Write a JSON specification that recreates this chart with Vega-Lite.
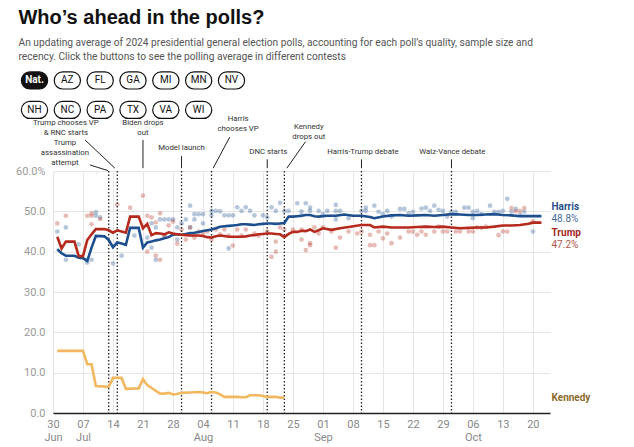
{
  "$schema": "https://vega.github.io/schema/vega-lite/v6.json",
  "width": 497,
  "height": 242,
  "autosize": {"type": "none"},
  "padding": {"left": 53, "top": 171, "right": 84, "bottom": 34},
  "title": {
    "text": "Who’s ahead in the polls?",
    "subtitle": [
      "An updating average of 2024 presidential general election polls, accounting for each poll’s quality, sample size and",
      "recency. Click the buttons to see the polling average in different contests"
    ],
    "anchor": "start",
    "frame": "bounds",
    "font": "Liberation Sans",
    "fontSize": 20,
    "fontWeight": "bold",
    "color": "#111111",
    "subtitleFont": "Roboto",
    "subtitleFontSize": 10.2,
    "subtitleColor": "#555555",
    "subtitlePadding": 10,
    "subtitleLineHeight": 14,
    "offset": 9,
    "dx": 3
  },
  "config": {"view": {"stroke": null}, "font": "Roboto"},
  "datasets": {
    "avg": [
      {"date": "2024-07-01", "candidate": "Harris", "pct": 40.6},
      {"date": "2024-07-02", "candidate": "Harris", "pct": 39.6},
      {"date": "2024-07-03", "candidate": "Harris", "pct": 39.0},
      {"date": "2024-07-05", "candidate": "Harris", "pct": 39.0},
      {"date": "2024-07-06", "candidate": "Harris", "pct": 38.5},
      {"date": "2024-07-07", "candidate": "Harris", "pct": 38.4},
      {"date": "2024-07-08", "candidate": "Harris", "pct": 37.7},
      {"date": "2024-07-09", "candidate": "Harris", "pct": 41.0},
      {"date": "2024-07-10", "candidate": "Harris", "pct": 43.9},
      {"date": "2024-07-12", "candidate": "Harris", "pct": 43.8},
      {"date": "2024-07-13", "candidate": "Harris", "pct": 42.9},
      {"date": "2024-07-14", "candidate": "Harris", "pct": 41.1},
      {"date": "2024-07-15", "candidate": "Harris", "pct": 42.3},
      {"date": "2024-07-16", "candidate": "Harris", "pct": 42.0},
      {"date": "2024-07-17", "candidate": "Harris", "pct": 41.7},
      {"date": "2024-07-18", "candidate": "Harris", "pct": 45.9},
      {"date": "2024-07-20", "candidate": "Harris", "pct": 45.9},
      {"date": "2024-07-21", "candidate": "Harris", "pct": 41.0},
      {"date": "2024-07-22", "candidate": "Harris", "pct": 42.3},
      {"date": "2024-07-23", "candidate": "Harris", "pct": 42.5},
      {"date": "2024-07-24", "candidate": "Harris", "pct": 42.8},
      {"date": "2024-07-25", "candidate": "Harris", "pct": 43.0},
      {"date": "2024-07-26", "candidate": "Harris", "pct": 43.3},
      {"date": "2024-07-27", "candidate": "Harris", "pct": 43.6},
      {"date": "2024-07-28", "candidate": "Harris", "pct": 44.2},
      {"date": "2024-07-29", "candidate": "Harris", "pct": 44.3},
      {"date": "2024-07-30", "candidate": "Harris", "pct": 44.2},
      {"date": "2024-07-31", "candidate": "Harris", "pct": 44.4},
      {"date": "2024-08-01", "candidate": "Harris", "pct": 44.6},
      {"date": "2024-08-02", "candidate": "Harris", "pct": 44.7},
      {"date": "2024-08-03", "candidate": "Harris", "pct": 44.9},
      {"date": "2024-08-04", "candidate": "Harris", "pct": 45.1},
      {"date": "2024-08-05", "candidate": "Harris", "pct": 45.3},
      {"date": "2024-08-06", "candidate": "Harris", "pct": 45.5},
      {"date": "2024-08-07", "candidate": "Harris", "pct": 45.8},
      {"date": "2024-08-08", "candidate": "Harris", "pct": 46.2},
      {"date": "2024-08-09", "candidate": "Harris", "pct": 46.3},
      {"date": "2024-08-10", "candidate": "Harris", "pct": 46.4},
      {"date": "2024-08-11", "candidate": "Harris", "pct": 46.5},
      {"date": "2024-08-12", "candidate": "Harris", "pct": 46.6},
      {"date": "2024-08-13", "candidate": "Harris", "pct": 46.8},
      {"date": "2024-08-14", "candidate": "Harris", "pct": 46.8},
      {"date": "2024-08-15", "candidate": "Harris", "pct": 46.7},
      {"date": "2024-08-16", "candidate": "Harris", "pct": 46.6},
      {"date": "2024-08-17", "candidate": "Harris", "pct": 46.8},
      {"date": "2024-08-18", "candidate": "Harris", "pct": 46.9},
      {"date": "2024-08-19", "candidate": "Harris", "pct": 47.0},
      {"date": "2024-08-20", "candidate": "Harris", "pct": 47.0},
      {"date": "2024-08-21", "candidate": "Harris", "pct": 46.9},
      {"date": "2024-08-22", "candidate": "Harris", "pct": 47.0},
      {"date": "2024-08-23", "candidate": "Harris", "pct": 47.1},
      {"date": "2024-08-24", "candidate": "Harris", "pct": 48.7},
      {"date": "2024-08-25", "candidate": "Harris", "pct": 48.7},
      {"date": "2024-08-26", "candidate": "Harris", "pct": 48.8},
      {"date": "2024-08-27", "candidate": "Harris", "pct": 48.9},
      {"date": "2024-08-28", "candidate": "Harris", "pct": 49.1},
      {"date": "2024-08-29", "candidate": "Harris", "pct": 49.1},
      {"date": "2024-08-30", "candidate": "Harris", "pct": 48.8},
      {"date": "2024-08-31", "candidate": "Harris", "pct": 48.7},
      {"date": "2024-09-02", "candidate": "Harris", "pct": 48.9},
      {"date": "2024-09-04", "candidate": "Harris", "pct": 48.9},
      {"date": "2024-09-06", "candidate": "Harris", "pct": 49.2},
      {"date": "2024-09-08", "candidate": "Harris", "pct": 48.9},
      {"date": "2024-09-10", "candidate": "Harris", "pct": 48.9},
      {"date": "2024-09-12", "candidate": "Harris", "pct": 48.6},
      {"date": "2024-09-13", "candidate": "Harris", "pct": 48.3},
      {"date": "2024-09-15", "candidate": "Harris", "pct": 48.7},
      {"date": "2024-09-17", "candidate": "Harris", "pct": 49.0},
      {"date": "2024-09-19", "candidate": "Harris", "pct": 49.1},
      {"date": "2024-09-21", "candidate": "Harris", "pct": 48.9},
      {"date": "2024-09-23", "candidate": "Harris", "pct": 49.0},
      {"date": "2024-09-25", "candidate": "Harris", "pct": 49.1},
      {"date": "2024-09-27", "candidate": "Harris", "pct": 48.9},
      {"date": "2024-09-29", "candidate": "Harris", "pct": 49.1},
      {"date": "2024-10-01", "candidate": "Harris", "pct": 49.3},
      {"date": "2024-10-03", "candidate": "Harris", "pct": 49.2},
      {"date": "2024-10-05", "candidate": "Harris", "pct": 49.1},
      {"date": "2024-10-07", "candidate": "Harris", "pct": 49.1},
      {"date": "2024-10-09", "candidate": "Harris", "pct": 49.2},
      {"date": "2024-10-11", "candidate": "Harris", "pct": 49.3},
      {"date": "2024-10-13", "candidate": "Harris", "pct": 49.1},
      {"date": "2024-10-15", "candidate": "Harris", "pct": 49.0},
      {"date": "2024-10-17", "candidate": "Harris", "pct": 48.8},
      {"date": "2024-10-19", "candidate": "Harris", "pct": 48.8},
      {"date": "2024-10-21", "candidate": "Harris", "pct": 48.8},
      {"date": "2024-10-22", "candidate": "Harris", "pct": 48.8},
      {"date": "2024-07-01", "candidate": "Trump", "pct": 43.7},
      {"date": "2024-07-02", "candidate": "Trump", "pct": 40.8},
      {"date": "2024-07-03", "candidate": "Trump", "pct": 42.5},
      {"date": "2024-07-05", "candidate": "Trump", "pct": 42.5},
      {"date": "2024-07-06", "candidate": "Trump", "pct": 38.9},
      {"date": "2024-07-07", "candidate": "Trump", "pct": 38.9},
      {"date": "2024-07-08", "candidate": "Trump", "pct": 42.9},
      {"date": "2024-07-09", "candidate": "Trump", "pct": 44.3},
      {"date": "2024-07-10", "candidate": "Trump", "pct": 45.6},
      {"date": "2024-07-12", "candidate": "Trump", "pct": 45.6},
      {"date": "2024-07-13", "candidate": "Trump", "pct": 45.3},
      {"date": "2024-07-14", "candidate": "Trump", "pct": 44.7},
      {"date": "2024-07-15", "candidate": "Trump", "pct": 45.3},
      {"date": "2024-07-16", "candidate": "Trump", "pct": 45.0},
      {"date": "2024-07-17", "candidate": "Trump", "pct": 44.7},
      {"date": "2024-07-18", "candidate": "Trump", "pct": 48.7},
      {"date": "2024-07-20", "candidate": "Trump", "pct": 48.7},
      {"date": "2024-07-21", "candidate": "Trump", "pct": 45.8},
      {"date": "2024-07-22", "candidate": "Trump", "pct": 46.9},
      {"date": "2024-07-23", "candidate": "Trump", "pct": 44.1},
      {"date": "2024-07-24", "candidate": "Trump", "pct": 44.6},
      {"date": "2024-07-25", "candidate": "Trump", "pct": 44.5},
      {"date": "2024-07-26", "candidate": "Trump", "pct": 44.3},
      {"date": "2024-07-27", "candidate": "Trump", "pct": 44.8},
      {"date": "2024-07-28", "candidate": "Trump", "pct": 44.5},
      {"date": "2024-07-29", "candidate": "Trump", "pct": 44.3},
      {"date": "2024-07-30", "candidate": "Trump", "pct": 44.2},
      {"date": "2024-07-31", "candidate": "Trump", "pct": 44.1},
      {"date": "2024-08-01", "candidate": "Trump", "pct": 44.0},
      {"date": "2024-08-03", "candidate": "Trump", "pct": 44.0},
      {"date": "2024-08-04", "candidate": "Trump", "pct": 43.9},
      {"date": "2024-08-05", "candidate": "Trump", "pct": 43.6},
      {"date": "2024-08-06", "candidate": "Trump", "pct": 43.5},
      {"date": "2024-08-07", "candidate": "Trump", "pct": 43.8},
      {"date": "2024-08-08", "candidate": "Trump", "pct": 44.0},
      {"date": "2024-08-09", "candidate": "Trump", "pct": 43.9},
      {"date": "2024-08-10", "candidate": "Trump", "pct": 43.7},
      {"date": "2024-08-13", "candidate": "Trump", "pct": 43.7},
      {"date": "2024-08-14", "candidate": "Trump", "pct": 43.8},
      {"date": "2024-08-15", "candidate": "Trump", "pct": 44.0},
      {"date": "2024-08-16", "candidate": "Trump", "pct": 44.1},
      {"date": "2024-08-17", "candidate": "Trump", "pct": 44.3},
      {"date": "2024-08-18", "candidate": "Trump", "pct": 44.4},
      {"date": "2024-08-19", "candidate": "Trump", "pct": 44.5},
      {"date": "2024-08-20", "candidate": "Trump", "pct": 44.5},
      {"date": "2024-08-21", "candidate": "Trump", "pct": 44.4},
      {"date": "2024-08-22", "candidate": "Trump", "pct": 44.3},
      {"date": "2024-08-23", "candidate": "Trump", "pct": 43.6},
      {"date": "2024-08-24", "candidate": "Trump", "pct": 44.4},
      {"date": "2024-08-25", "candidate": "Trump", "pct": 44.9},
      {"date": "2024-08-26", "candidate": "Trump", "pct": 44.9},
      {"date": "2024-08-27", "candidate": "Trump", "pct": 45.2},
      {"date": "2024-08-28", "candidate": "Trump", "pct": 45.1},
      {"date": "2024-08-29", "candidate": "Trump", "pct": 45.5},
      {"date": "2024-08-30", "candidate": "Trump", "pct": 44.9},
      {"date": "2024-08-31", "candidate": "Trump", "pct": 45.3},
      {"date": "2024-09-01", "candidate": "Trump", "pct": 45.8},
      {"date": "2024-09-03", "candidate": "Trump", "pct": 45.4},
      {"date": "2024-09-05", "candidate": "Trump", "pct": 45.8},
      {"date": "2024-09-07", "candidate": "Trump", "pct": 46.1},
      {"date": "2024-09-10", "candidate": "Trump", "pct": 46.6},
      {"date": "2024-09-12", "candidate": "Trump", "pct": 46.6},
      {"date": "2024-09-13", "candidate": "Trump", "pct": 46.0},
      {"date": "2024-09-15", "candidate": "Trump", "pct": 46.2},
      {"date": "2024-09-17", "candidate": "Trump", "pct": 46.0},
      {"date": "2024-09-19", "candidate": "Trump", "pct": 46.0},
      {"date": "2024-09-21", "candidate": "Trump", "pct": 46.0},
      {"date": "2024-09-23", "candidate": "Trump", "pct": 46.1},
      {"date": "2024-09-25", "candidate": "Trump", "pct": 46.2},
      {"date": "2024-09-27", "candidate": "Trump", "pct": 46.1},
      {"date": "2024-09-29", "candidate": "Trump", "pct": 46.2},
      {"date": "2024-10-01", "candidate": "Trump", "pct": 46.0},
      {"date": "2024-10-03", "candidate": "Trump", "pct": 45.8},
      {"date": "2024-10-05", "candidate": "Trump", "pct": 45.9},
      {"date": "2024-10-07", "candidate": "Trump", "pct": 46.0},
      {"date": "2024-10-09", "candidate": "Trump", "pct": 46.0},
      {"date": "2024-10-11", "candidate": "Trump", "pct": 46.2},
      {"date": "2024-10-13", "candidate": "Trump", "pct": 46.5},
      {"date": "2024-10-15", "candidate": "Trump", "pct": 46.5},
      {"date": "2024-10-17", "candidate": "Trump", "pct": 46.6},
      {"date": "2024-10-19", "candidate": "Trump", "pct": 46.9},
      {"date": "2024-10-20", "candidate": "Trump", "pct": 47.2},
      {"date": "2024-10-22", "candidate": "Trump", "pct": 47.2},
      {"date": "2024-07-01", "candidate": "Kennedy", "pct": 15.4},
      {"date": "2024-07-07", "candidate": "Kennedy", "pct": 15.4},
      {"date": "2024-07-08", "candidate": "Kennedy", "pct": 12.1},
      {"date": "2024-07-09", "candidate": "Kennedy", "pct": 12.1},
      {"date": "2024-07-10", "candidate": "Kennedy", "pct": 6.7},
      {"date": "2024-07-13", "candidate": "Kennedy", "pct": 6.5},
      {"date": "2024-07-14", "candidate": "Kennedy", "pct": 8.7},
      {"date": "2024-07-16", "candidate": "Kennedy", "pct": 8.7},
      {"date": "2024-07-17", "candidate": "Kennedy", "pct": 6.0},
      {"date": "2024-07-20", "candidate": "Kennedy", "pct": 6.1},
      {"date": "2024-07-21", "candidate": "Kennedy", "pct": 8.4},
      {"date": "2024-07-22", "candidate": "Kennedy", "pct": 6.9},
      {"date": "2024-07-23", "candidate": "Kennedy", "pct": 6.2},
      {"date": "2024-07-25", "candidate": "Kennedy", "pct": 4.8},
      {"date": "2024-07-26", "candidate": "Kennedy", "pct": 4.8},
      {"date": "2024-07-27", "candidate": "Kennedy", "pct": 5.0},
      {"date": "2024-07-28", "candidate": "Kennedy", "pct": 4.6},
      {"date": "2024-07-29", "candidate": "Kennedy", "pct": 4.7},
      {"date": "2024-07-30", "candidate": "Kennedy", "pct": 5.0},
      {"date": "2024-08-01", "candidate": "Kennedy", "pct": 5.1},
      {"date": "2024-08-03", "candidate": "Kennedy", "pct": 5.2},
      {"date": "2024-08-04", "candidate": "Kennedy", "pct": 5.1},
      {"date": "2024-08-05", "candidate": "Kennedy", "pct": 4.9},
      {"date": "2024-08-06", "candidate": "Kennedy", "pct": 5.2},
      {"date": "2024-08-07", "candidate": "Kennedy", "pct": 5.1},
      {"date": "2024-08-08", "candidate": "Kennedy", "pct": 4.6},
      {"date": "2024-08-09", "candidate": "Kennedy", "pct": 4.0},
      {"date": "2024-08-12", "candidate": "Kennedy", "pct": 4.0},
      {"date": "2024-08-13", "candidate": "Kennedy", "pct": 3.9},
      {"date": "2024-08-14", "candidate": "Kennedy", "pct": 3.9},
      {"date": "2024-08-15", "candidate": "Kennedy", "pct": 4.4},
      {"date": "2024-08-17", "candidate": "Kennedy", "pct": 4.4},
      {"date": "2024-08-18", "candidate": "Kennedy", "pct": 4.2},
      {"date": "2024-08-19", "candidate": "Kennedy", "pct": 4.0},
      {"date": "2024-08-21", "candidate": "Kennedy", "pct": 4.0},
      {"date": "2024-08-22", "candidate": "Kennedy", "pct": 3.8},
      {"date": "2024-08-23", "candidate": "Kennedy", "pct": 3.8}
    ],
    "polls": [
      {"date": "2024-07-01", "candidate": "Harris", "pct": 45.0},
      {"date": "2024-07-03", "candidate": "Harris", "pct": 46.0},
      {"date": "2024-07-03", "candidate": "Harris", "pct": 38.0},
      {"date": "2024-07-06", "candidate": "Harris", "pct": 41.8},
      {"date": "2024-07-08", "candidate": "Harris", "pct": 37.3},
      {"date": "2024-07-09", "candidate": "Harris", "pct": 38.0},
      {"date": "2024-07-10", "candidate": "Harris", "pct": 48.9},
      {"date": "2024-07-10", "candidate": "Harris", "pct": 49.8},
      {"date": "2024-07-11", "candidate": "Harris", "pct": 48.5},
      {"date": "2024-07-14", "candidate": "Harris", "pct": 37.1},
      {"date": "2024-07-16", "candidate": "Harris", "pct": 39.0},
      {"date": "2024-07-19", "candidate": "Harris", "pct": 44.0},
      {"date": "2024-07-22", "candidate": "Harris", "pct": 43.5},
      {"date": "2024-07-23", "candidate": "Harris", "pct": 47.0},
      {"date": "2024-07-23", "candidate": "Harris", "pct": 41.0},
      {"date": "2024-07-24", "candidate": "Harris", "pct": 46.0},
      {"date": "2024-07-24", "candidate": "Harris", "pct": 38.0},
      {"date": "2024-07-25", "candidate": "Harris", "pct": 48.0},
      {"date": "2024-07-26", "candidate": "Harris", "pct": 48.0},
      {"date": "2024-07-26", "candidate": "Harris", "pct": 44.0},
      {"date": "2024-07-27", "candidate": "Harris", "pct": 48.0},
      {"date": "2024-07-28", "candidate": "Harris", "pct": 48.0},
      {"date": "2024-07-29", "candidate": "Harris", "pct": 46.0},
      {"date": "2024-07-29", "candidate": "Harris", "pct": 43.0},
      {"date": "2024-07-30", "candidate": "Harris", "pct": 47.0},
      {"date": "2024-07-31", "candidate": "Harris", "pct": 48.0},
      {"date": "2024-08-01", "candidate": "Harris", "pct": 51.4},
      {"date": "2024-08-01", "candidate": "Harris", "pct": 46.0},
      {"date": "2024-08-02", "candidate": "Harris", "pct": 49.3},
      {"date": "2024-08-02", "candidate": "Harris", "pct": 48.0},
      {"date": "2024-08-03", "candidate": "Harris", "pct": 49.3},
      {"date": "2024-08-04", "candidate": "Harris", "pct": 49.3},
      {"date": "2024-08-04", "candidate": "Harris", "pct": 47.0},
      {"date": "2024-08-06", "candidate": "Harris", "pct": 50.1},
      {"date": "2024-08-06", "candidate": "Harris", "pct": 49.0},
      {"date": "2024-08-07", "candidate": "Harris", "pct": 50.1},
      {"date": "2024-08-08", "candidate": "Harris", "pct": 50.0},
      {"date": "2024-08-09", "candidate": "Harris", "pct": 49.0},
      {"date": "2024-08-10", "candidate": "Harris", "pct": 49.0},
      {"date": "2024-08-10", "candidate": "Harris", "pct": 40.8},
      {"date": "2024-08-11", "candidate": "Harris", "pct": 49.0},
      {"date": "2024-08-12", "candidate": "Harris", "pct": 51.0},
      {"date": "2024-08-13", "candidate": "Harris", "pct": 50.1},
      {"date": "2024-08-14", "candidate": "Harris", "pct": 51.0},
      {"date": "2024-08-15", "candidate": "Harris", "pct": 50.1},
      {"date": "2024-08-16", "candidate": "Harris", "pct": 49.0},
      {"date": "2024-08-18", "candidate": "Harris", "pct": 49.0},
      {"date": "2024-08-19", "candidate": "Harris", "pct": 48.5},
      {"date": "2024-08-20", "candidate": "Harris", "pct": 51.0},
      {"date": "2024-08-21", "candidate": "Harris", "pct": 50.1},
      {"date": "2024-08-22", "candidate": "Harris", "pct": 52.1},
      {"date": "2024-08-23", "candidate": "Harris", "pct": 50.1},
      {"date": "2024-08-24", "candidate": "Harris", "pct": 50.1},
      {"date": "2024-08-26", "candidate": "Harris", "pct": 52.0},
      {"date": "2024-08-27", "candidate": "Harris", "pct": 50.0},
      {"date": "2024-08-27", "candidate": "Harris", "pct": 49.0},
      {"date": "2024-08-28", "candidate": "Harris", "pct": 52.0},
      {"date": "2024-08-29", "candidate": "Harris", "pct": 50.9},
      {"date": "2024-08-29", "candidate": "Harris", "pct": 50.1},
      {"date": "2024-08-31", "candidate": "Harris", "pct": 50.1},
      {"date": "2024-09-01", "candidate": "Harris", "pct": 49.3},
      {"date": "2024-09-02", "candidate": "Harris", "pct": 50.1},
      {"date": "2024-09-04", "candidate": "Harris", "pct": 50.1},
      {"date": "2024-09-04", "candidate": "Harris", "pct": 51.6},
      {"date": "2024-09-04", "candidate": "Harris", "pct": 48.0},
      {"date": "2024-09-05", "candidate": "Harris", "pct": 50.1},
      {"date": "2024-09-07", "candidate": "Harris", "pct": 48.3},
      {"date": "2024-09-10", "candidate": "Harris", "pct": 50.1},
      {"date": "2024-09-11", "candidate": "Harris", "pct": 50.9},
      {"date": "2024-09-11", "candidate": "Harris", "pct": 50.1},
      {"date": "2024-09-13", "candidate": "Harris", "pct": 51.4},
      {"date": "2024-09-14", "candidate": "Harris", "pct": 49.9},
      {"date": "2024-09-15", "candidate": "Harris", "pct": 49.3},
      {"date": "2024-09-16", "candidate": "Harris", "pct": 50.1},
      {"date": "2024-09-17", "candidate": "Harris", "pct": 48.7},
      {"date": "2024-09-19", "candidate": "Harris", "pct": 50.6},
      {"date": "2024-09-20", "candidate": "Harris", "pct": 50.6},
      {"date": "2024-09-21", "candidate": "Harris", "pct": 49.5},
      {"date": "2024-09-22", "candidate": "Harris", "pct": 49.9},
      {"date": "2024-09-24", "candidate": "Harris", "pct": 50.7},
      {"date": "2024-09-25", "candidate": "Harris", "pct": 50.9},
      {"date": "2024-09-26", "candidate": "Harris", "pct": 50.1},
      {"date": "2024-09-27", "candidate": "Harris", "pct": 51.4},
      {"date": "2024-09-28", "candidate": "Harris", "pct": 50.4},
      {"date": "2024-09-29", "candidate": "Harris", "pct": 50.1},
      {"date": "2024-09-30", "candidate": "Harris", "pct": 48.7},
      {"date": "2024-10-01", "candidate": "Harris", "pct": 49.9},
      {"date": "2024-10-02", "candidate": "Harris", "pct": 49.9},
      {"date": "2024-10-04", "candidate": "Harris", "pct": 50.9},
      {"date": "2024-10-05", "candidate": "Harris", "pct": 50.9},
      {"date": "2024-10-06", "candidate": "Harris", "pct": 49.9},
      {"date": "2024-10-06", "candidate": "Harris", "pct": 48.3},
      {"date": "2024-10-07", "candidate": "Harris", "pct": 50.1},
      {"date": "2024-10-08", "candidate": "Harris", "pct": 49.3},
      {"date": "2024-10-10", "candidate": "Harris", "pct": 51.4},
      {"date": "2024-10-11", "candidate": "Harris", "pct": 49.9},
      {"date": "2024-10-12", "candidate": "Harris", "pct": 49.9},
      {"date": "2024-10-13", "candidate": "Harris", "pct": 50.1},
      {"date": "2024-10-14", "candidate": "Harris", "pct": 53.1},
      {"date": "2024-10-15", "candidate": "Harris", "pct": 49.9},
      {"date": "2024-10-16", "candidate": "Harris", "pct": 50.6},
      {"date": "2024-10-17", "candidate": "Harris", "pct": 49.1},
      {"date": "2024-10-18", "candidate": "Harris", "pct": 49.9},
      {"date": "2024-10-20", "candidate": "Harris", "pct": 45.0},
      {"date": "2024-07-01", "candidate": "Trump", "pct": 47.0},
      {"date": "2024-07-03", "candidate": "Trump", "pct": 48.9},
      {"date": "2024-07-08", "candidate": "Trump", "pct": 48.9},
      {"date": "2024-07-09", "candidate": "Trump", "pct": 48.9},
      {"date": "2024-07-09", "candidate": "Trump", "pct": 49.5},
      {"date": "2024-07-09", "candidate": "Trump", "pct": 46.8},
      {"date": "2024-07-11", "candidate": "Trump", "pct": 48.1},
      {"date": "2024-07-15", "candidate": "Trump", "pct": 51.7},
      {"date": "2024-07-18", "candidate": "Trump", "pct": 50.9},
      {"date": "2024-07-21", "candidate": "Trump", "pct": 53.9},
      {"date": "2024-07-22", "candidate": "Trump", "pct": 48.9},
      {"date": "2024-07-22", "candidate": "Trump", "pct": 40.0},
      {"date": "2024-07-23", "candidate": "Trump", "pct": 48.5},
      {"date": "2024-07-24", "candidate": "Trump", "pct": 47.3},
      {"date": "2024-07-24", "candidate": "Trump", "pct": 39.0},
      {"date": "2024-07-25", "candidate": "Trump", "pct": 49.5},
      {"date": "2024-07-25", "candidate": "Trump", "pct": 38.0},
      {"date": "2024-07-26", "candidate": "Trump", "pct": 44.0},
      {"date": "2024-07-27", "candidate": "Trump", "pct": 46.5},
      {"date": "2024-07-28", "candidate": "Trump", "pct": 47.5},
      {"date": "2024-07-29", "candidate": "Trump", "pct": 42.0},
      {"date": "2024-07-30", "candidate": "Trump", "pct": 45.5},
      {"date": "2024-07-31", "candidate": "Trump", "pct": 43.0},
      {"date": "2024-08-01", "candidate": "Trump", "pct": 46.0},
      {"date": "2024-08-02", "candidate": "Trump", "pct": 43.5},
      {"date": "2024-08-03", "candidate": "Trump", "pct": 45.0},
      {"date": "2024-08-04", "candidate": "Trump", "pct": 44.5},
      {"date": "2024-08-05", "candidate": "Trump", "pct": 45.0},
      {"date": "2024-08-06", "candidate": "Trump", "pct": 43.0},
      {"date": "2024-08-07", "candidate": "Trump", "pct": 45.5},
      {"date": "2024-08-08", "candidate": "Trump", "pct": 44.3},
      {"date": "2024-08-09", "candidate": "Trump", "pct": 45.5},
      {"date": "2024-08-10", "candidate": "Trump", "pct": 44.0},
      {"date": "2024-08-11", "candidate": "Trump", "pct": 41.5},
      {"date": "2024-08-12", "candidate": "Trump", "pct": 45.5},
      {"date": "2024-08-13", "candidate": "Trump", "pct": 44.0},
      {"date": "2024-08-14", "candidate": "Trump", "pct": 45.5},
      {"date": "2024-08-16", "candidate": "Trump", "pct": 44.5},
      {"date": "2024-08-17", "candidate": "Trump", "pct": 44.0},
      {"date": "2024-08-19", "candidate": "Trump", "pct": 45.0},
      {"date": "2024-08-20", "candidate": "Trump", "pct": 38.7},
      {"date": "2024-08-21", "candidate": "Trump", "pct": 40.0},
      {"date": "2024-08-21", "candidate": "Trump", "pct": 42.5},
      {"date": "2024-08-22", "candidate": "Trump", "pct": 46.0},
      {"date": "2024-08-23", "candidate": "Trump", "pct": 45.5},
      {"date": "2024-08-25", "candidate": "Trump", "pct": 45.5},
      {"date": "2024-08-27", "candidate": "Trump", "pct": 45.5},
      {"date": "2024-08-27", "candidate": "Trump", "pct": 43.0},
      {"date": "2024-08-28", "candidate": "Trump", "pct": 40.4},
      {"date": "2024-08-29", "candidate": "Trump", "pct": 42.1},
      {"date": "2024-08-29", "candidate": "Trump", "pct": 41.6},
      {"date": "2024-08-30", "candidate": "Trump", "pct": 46.0},
      {"date": "2024-08-31", "candidate": "Trump", "pct": 44.5},
      {"date": "2024-09-01", "candidate": "Trump", "pct": 46.0},
      {"date": "2024-09-03", "candidate": "Trump", "pct": 45.0},
      {"date": "2024-09-04", "candidate": "Trump", "pct": 41.0},
      {"date": "2024-09-05", "candidate": "Trump", "pct": 43.5},
      {"date": "2024-09-07", "candidate": "Trump", "pct": 45.0},
      {"date": "2024-09-09", "candidate": "Trump", "pct": 44.5},
      {"date": "2024-09-10", "candidate": "Trump", "pct": 45.0},
      {"date": "2024-09-12", "candidate": "Trump", "pct": 44.2},
      {"date": "2024-09-12", "candidate": "Trump", "pct": 41.6},
      {"date": "2024-09-13", "candidate": "Trump", "pct": 41.6},
      {"date": "2024-09-14", "candidate": "Trump", "pct": 45.0},
      {"date": "2024-09-15", "candidate": "Trump", "pct": 43.3},
      {"date": "2024-09-16", "candidate": "Trump", "pct": 44.5},
      {"date": "2024-09-17", "candidate": "Trump", "pct": 42.1},
      {"date": "2024-09-19", "candidate": "Trump", "pct": 43.5},
      {"date": "2024-09-21", "candidate": "Trump", "pct": 45.0},
      {"date": "2024-09-22", "candidate": "Trump", "pct": 45.0},
      {"date": "2024-09-23", "candidate": "Trump", "pct": 44.2},
      {"date": "2024-09-24", "candidate": "Trump", "pct": 45.0},
      {"date": "2024-09-25", "candidate": "Trump", "pct": 44.2},
      {"date": "2024-09-27", "candidate": "Trump", "pct": 45.0},
      {"date": "2024-09-28", "candidate": "Trump", "pct": 46.2},
      {"date": "2024-09-29", "candidate": "Trump", "pct": 45.0},
      {"date": "2024-09-30", "candidate": "Trump", "pct": 45.0},
      {"date": "2024-10-02", "candidate": "Trump", "pct": 45.0},
      {"date": "2024-10-03", "candidate": "Trump", "pct": 45.0},
      {"date": "2024-10-05", "candidate": "Trump", "pct": 45.0},
      {"date": "2024-10-06", "candidate": "Trump", "pct": 45.0},
      {"date": "2024-10-07", "candidate": "Trump", "pct": 46.0},
      {"date": "2024-10-08", "candidate": "Trump", "pct": 45.9},
      {"date": "2024-10-09", "candidate": "Trump", "pct": 46.2},
      {"date": "2024-10-12", "candidate": "Trump", "pct": 44.1},
      {"date": "2024-10-13", "candidate": "Trump", "pct": 45.0},
      {"date": "2024-10-14", "candidate": "Trump", "pct": 45.0},
      {"date": "2024-10-15", "candidate": "Trump", "pct": 50.8},
      {"date": "2024-10-16", "candidate": "Trump", "pct": 50.0},
      {"date": "2024-10-17", "candidate": "Trump", "pct": 50.1},
      {"date": "2024-10-18", "candidate": "Trump", "pct": 50.8},
      {"date": "2024-10-20", "candidate": "Trump", "pct": 47.5}
    ],
    "events": [
      {"date": "2024-07-13"},
      {"date": "2024-07-15"},
      {"date": "2024-07-30"},
      {"date": "2024-08-06"},
      {"date": "2024-08-19"},
      {"date": "2024-08-23"},
      {"date": "2024-09-10"},
      {"date": "2024-10-01"}
    ],
    "notes": [
      {"date": "2024-07-02T19:00:00Z", "lines": ["Trump", "assassination", "attempt"], "level": 66.9},
      {"date": "2024-07-03T00:00:00Z", "lines": ["Trump chooses VP", "& RNC starts"], "level": 71.8},
      {"date": "2024-07-21T00:00:00Z", "lines": ["Biden drops", "out"], "level": 71.8},
      {"date": "2024-07-30T00:00:00Z", "lines": ["Model launch"], "level": 65.8},
      {"date": "2024-08-12T05:00:00Z", "lines": ["Harris", "chooses VP"], "level": 72.9},
      {"date": "2024-08-19T06:00:00Z", "lines": ["DNC starts"], "level": 64.8},
      {"date": "2024-08-28T17:00:00Z", "lines": ["Kennedy", "drops out"], "level": 71.0},
      {"date": "2024-09-10T08:00:00Z", "lines": ["Harris-Trump debate"], "level": 64.8},
      {"date": "2024-10-01T05:00:00Z", "lines": ["Walz-Vance debate"], "level": 64.8}
    ],
    "leaders": [
      {"from": "2024-07-08T15:00:00Z", "to": "2024-07-12T20:00:00Z", "top": 61.5, "bottom": 60.1},
      {"from": "2024-07-07T11:00:00Z", "to": "2024-07-14T11:00:00Z", "top": 67.7, "bottom": 60.7},
      {"from": "2024-07-21T00:00:00Z", "to": "2024-07-21T00:00:00Z", "top": 67.7, "bottom": 60.7},
      {"from": "2024-07-30T00:00:00Z", "to": "2024-07-30T00:00:00Z", "top": 63.7, "bottom": 60.7},
      {"from": "2024-08-10T06:00:00Z", "to": "2024-08-06T09:00:00Z", "top": 68.4, "bottom": 60.7},
      {"from": "2024-08-19T00:00:00Z", "to": "2024-08-19T00:00:00Z", "top": 62.9, "bottom": 60.7},
      {"from": "2024-08-27T23:00:00Z", "to": "2024-08-23T14:00:00Z", "top": 67.3, "bottom": 60.7},
      {"from": "2024-09-10T00:00:00Z", "to": "2024-09-10T00:00:00Z", "top": 62.9, "bottom": 60.7},
      {"from": "2024-10-01T00:00:00Z", "to": "2024-10-01T00:00:00Z", "top": 62.9, "bottom": 60.7}
    ],
    "ends": [
      {"candidate": "Harris", "pct": 48.8, "pctText": "48.8%"},
      {"candidate": "Trump", "pct": 47.2, "pctText": "47.2%"},
      {"candidate": "Kennedy", "pct": 3.8, "pctText": ""}
    ],
    "buttons": [
      {"label": "Nat.", "row": 1, "col": 0, "selected": true},
      {"label": "AZ", "row": 1, "col": 1, "selected": false},
      {"label": "FL", "row": 1, "col": 2, "selected": false},
      {"label": "GA", "row": 1, "col": 3, "selected": false},
      {"label": "MI", "row": 1, "col": 4, "selected": false},
      {"label": "MN", "row": 1, "col": 5, "selected": false},
      {"label": "NV", "row": 1, "col": 6, "selected": false},
      {"label": "NH", "row": 2, "col": 0, "selected": false},
      {"label": "NC", "row": 2, "col": 1, "selected": false},
      {"label": "PA", "row": 2, "col": 2, "selected": false},
      {"label": "TX", "row": 2, "col": 3, "selected": false},
      {"label": "VA", "row": 2, "col": 4, "selected": false},
      {"label": "WI", "row": 2, "col": 5, "selected": false}
    ]
  },
  "layer": [
    {
      "layer": [
        {
          "data": {"name": "polls"},
          "mark": {"type": "circle", "size": 22, "opacity": 0.32},
          "encoding": {
            "x": {
              "field": "date", "type": "temporal",
              "scale": {"type": "utc", "domain": [{"year": 2024, "month": 6, "date": 30, "utc": true}, {"year": 2024, "month": 10, "date": 24, "utc": true}]},
              "axis": {
                "title": null, "grid": true, "gridColor": "#e6e6e6", "domainColor": "#222222", "domainWidth": 1.6,
                "ticks": false, "labelColor": "#888888", "labelFont": "Roboto", "labelFontSize": 11, "labelPadding": 5,
                "labelLineHeight": 13, "labelFlush": false, "labelOverlap": false, "labelBaseline": "top",
                "tickCount": {"interval": "week", "step": 1},
                "labelExpr": "[utcFormat(datum.value, '%d'), (utcdate(datum.value) <= 7 || utcmonth(datum.value) == 5) ? utcFormat(datum.value, '%b') : '']"
              }
            },
            "y": {
              "field": "pct", "type": "quantitative",
              "scale": {"domain": [0, 60], "nice": false},
              "axis": {
                "title": null, "values": [0, 10, 20, 30, 40, 50, 60], "grid": true, "gridColor": "#e6e6e6",
                "domain": false, "ticks": false, "labelPadding": 8, "labelColor": "#999999", "labelFont": "Roboto",
                "labelFontSize": 11,
                "labelExpr": "datum.value == 60 ? '60.0%' : format(datum.value, '.1f')"
              }
            },
            "color": {
              "field": "candidate", "type": "nominal",
              "scale": {"domain": ["Harris", "Trump", "Kennedy"], "range": ["#1d4f8f", "#b52a1c", "#f3b85f"]},
              "legend": null
            }
          }
        },
        {
          "data": {"name": "events"},
          "mark": {"type": "rule", "strokeDash": [1.5, 2], "color": "#222222", "strokeWidth": 1.3},
          "encoding": {"x": {"field": "date", "type": "temporal"}}
        },
        {
          "data": {"name": "avg"},
          "mark": {"type": "line", "strokeWidth": 2.6},
          "encoding": {
            "x": {"field": "date", "type": "temporal"},
            "y": {"field": "pct", "type": "quantitative"},
            "color": {"field": "candidate", "type": "nominal"}
          }
        },
        {
          "data": {"name": "leaders"},
          "mark": {"type": "rule", "color": "#222222", "strokeWidth": 1},
          "encoding": {
            "x": {"field": "from", "type": "temporal"},
            "x2": {"field": "to"},
            "y": {"field": "top", "type": "quantitative"},
            "y2": {"field": "bottom"}
          }
        },
        {
          "data": {"name": "notes"},
          "mark": {"type": "text", "font": "Roboto", "fontSize": 7.8, "lineHeight": 10, "color": "#333333", "align": "center", "baseline": "middle"},
          "encoding": {
            "x": {"field": "date", "type": "temporal"},
            "y": {"field": "level", "type": "quantitative"},
            "text": {"field": "lines"}
          }
        },
        {
          "data": {"name": "ends"},
          "transform": [{"filter": "datum.candidate == 'Harris'"}],
          "mark": {"type": "text", "font": "Roboto", "fontSize": 10, "fontWeight": "bold", "color": "#27508b", "align": "left", "baseline": "middle", "dx": 1.5, "dy": -9},
          "encoding": {
            "x": {"datum": {"year": 2024, "month": 10, "date": 24, "utc": true}, "type": "temporal"},
            "y": {"field": "pct", "type": "quantitative"},
            "text": {"field": "candidate"}
          }
        },
        {
          "data": {"name": "ends"},
          "transform": [{"filter": "datum.candidate == 'Harris'"}],
          "mark": {"type": "text", "font": "Roboto", "fontSize": 10, "color": "#4a6d9c", "align": "left", "baseline": "middle", "dx": 1.5, "dy": 3},
          "encoding": {
            "x": {"datum": {"year": 2024, "month": 10, "date": 24, "utc": true}, "type": "temporal"},
            "y": {"field": "pct", "type": "quantitative"},
            "text": {"field": "pctText"}
          }
        },
        {
          "data": {"name": "ends"},
          "transform": [{"filter": "datum.candidate == 'Trump'"}],
          "mark": {"type": "text", "font": "Roboto", "fontSize": 10, "fontWeight": "bold", "color": "#a62a1f", "align": "left", "baseline": "middle", "dx": 1.5, "dy": 10.5},
          "encoding": {
            "x": {"datum": {"year": 2024, "month": 10, "date": 24, "utc": true}, "type": "temporal"},
            "y": {"field": "pct", "type": "quantitative"},
            "text": {"field": "candidate"}
          }
        },
        {
          "data": {"name": "ends"},
          "transform": [{"filter": "datum.candidate == 'Trump'"}],
          "mark": {"type": "text", "font": "Roboto", "fontSize": 10, "color": "#b5554c", "align": "left", "baseline": "middle", "dx": 1.5, "dy": 22.5},
          "encoding": {
            "x": {"datum": {"year": 2024, "month": 10, "date": 24, "utc": true}, "type": "temporal"},
            "y": {"field": "pct", "type": "quantitative"},
            "text": {"field": "pctText"}
          }
        },
        {
          "data": {"name": "ends"},
          "transform": [{"filter": "datum.candidate == 'Kennedy'"}],
          "mark": {"type": "text", "font": "Roboto", "fontSize": 10, "fontWeight": "bold", "color": "#8c6b2b", "align": "left", "baseline": "middle", "dx": 1.5},
          "encoding": {
            "x": {"datum": {"year": 2024, "month": 10, "date": 24, "utc": true}, "type": "temporal"},
            "y": {"field": "pct", "type": "quantitative"},
            "text": {"field": "candidate"}
          }
        }
      ]
    },
    {
      "data": {"name": "buttons"},
      "encoding": {
        "x": {"field": "col", "type": "ordinal", "axis": null, "scale": {"range": [-34.9, 194.9], "paddingInner": 0.2, "paddingOuter": 0.1}},
        "y": {"field": "row", "type": "ordinal", "axis": null, "scale": {"range": [-102, -49.6], "paddingInner": 0.42, "paddingOuter": 0.1}}
      },
      "layer": [
        {
          "mark": {"type": "rect", "cornerRadius": 8.5, "stroke": "#111111", "strokeWidth": 1.2},
          "encoding": {
            "fill": {"condition": {"test": "datum.selected", "value": "#111111"}, "value": "#ffffff"}
          }
        },
        {
          "transform": [{"filter": "!datum.selected"}],
          "mark": {"type": "text", "font": "Roboto", "fontSize": 10, "color": "#111111", "align": "center", "baseline": "middle"},
          "encoding": {"text": {"field": "label"}}
        },
        {
          "transform": [{"filter": "datum.selected"}],
          "mark": {"type": "text", "font": "Roboto", "fontSize": 10, "fontWeight": "bold", "color": "#ffffff", "align": "center", "baseline": "middle"},
          "encoding": {"text": {"field": "label"}}
        }
      ]
    }
  ],
  "resolve": {"scale": {"x": "independent", "y": "independent"}}
}
